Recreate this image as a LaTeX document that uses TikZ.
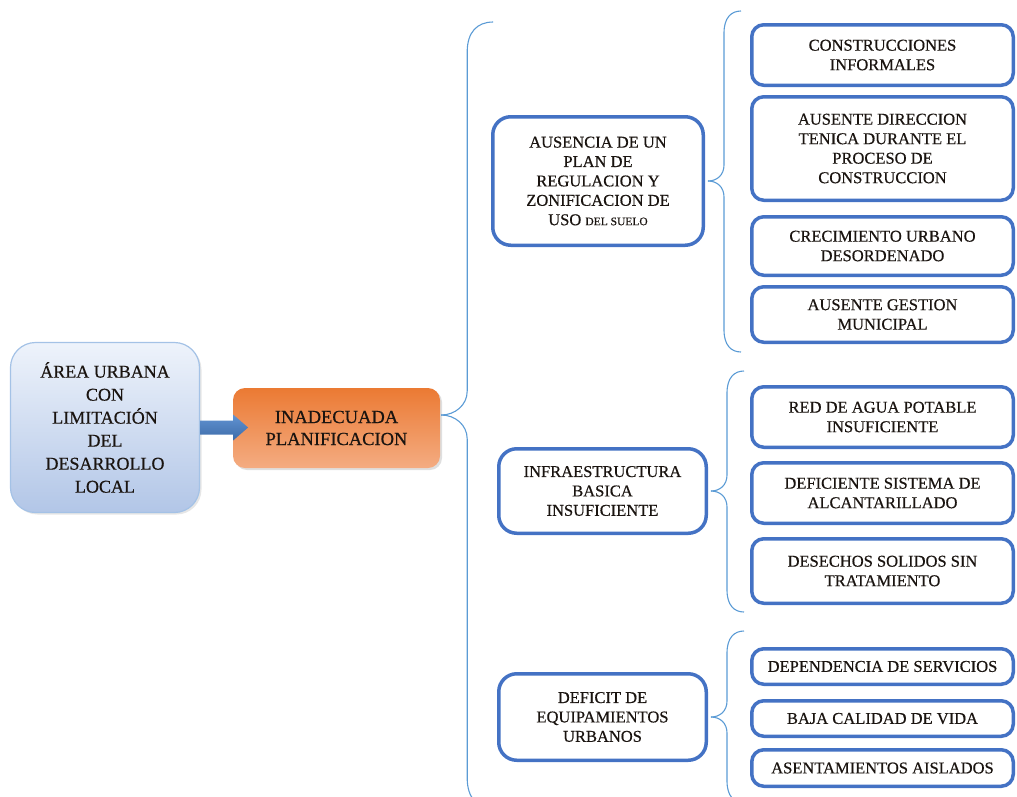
\documentclass[tikz,border=0pt]{standalone}
\usepackage{fontspec}
\setmainfont{Liberation Serif}[FakeBold=0.5]
\usetikzlibrary{calc,shadows}
\definecolor{boxblue}{HTML}{4472C4}
\definecolor{bracecol}{HTML}{5B9BD5}
\definecolor{leftborder}{HTML}{A4C2E6}
\definecolor{lefttop}{HTML}{EEF3FB}
\definecolor{leftbot}{HTML}{B2C6E7}
\definecolor{ortop}{HTML}{EB7A33}
\definecolor{ormid}{HTML}{E86F22}
\definecolor{orbot}{HTML}{F4AC82}
\definecolor{arrowtop}{HTML}{6193D2}
\definecolor{arrowbot}{HTML}{3D6BA8}
\definecolor{txt}{HTML}{1A1410}
\begin{document}
\begin{tikzpicture}[x=1pt,y=-1pt,
  subbox/.style={draw=boxblue, line width=3.5pt, rounded corners=12pt, fill=white, text=txt,
    align=center, font=\fontsize{16.5}{19.5}\selectfont, minimum width=261.5pt, inner sep=0pt},
  midbox/.style={draw=boxblue, line width=3.5pt, rounded corners=18pt, fill=white, text=txt,
    align=center, font=\fontsize{16.5}{19.4}\selectfont, inner sep=0pt},
  bracestyle/.style={draw=bracecol, line width=1.1pt},
  ]
\useasboundingbox (0,0) rectangle (1017,796);

% left box
\node[draw=leftborder, line width=1.2pt, rounded corners=25pt, top color=lefttop, bottom color=leftbot,
  minimum width=189pt, minimum height=170pt, align=center, inner sep=0pt, text=txt,
  drop shadow={opacity=0.2, shadow xshift=2pt, shadow yshift=-2pt},
  font=\fontsize{18}{23}\selectfont] (area) at (105,427.5)
  {ÁREA URBANA\\CON\\LIMITACIÓN\\DEL\\DESARROLLO\\LOCAL};

% orange box
\node[rounded corners=12pt, top color=ortop, middle color=ormid, bottom color=orbot,
  minimum width=207pt, minimum height=80pt, align=center, inner sep=0pt, text=txt,
  drop shadow={opacity=0.25, shadow xshift=2pt, shadow yshift=-2pt},
  font=\fontsize{18.5}{22}\selectfont] (plan) at (336.5,428)
  {INADECUADA\\PLANIFICACION};

% arrow
\shade[top color=arrowtop, bottom color=arrowbot]
  ($(area.east)+(0,-7)$) -- ++(33,0) -- ++(0,-6) -- ++(15,13) -- ++(-15,13) -- ++(0,-6) -- ++(-33,0) -- cycle;

% middle boxes
\node[midbox, minimum width=210.5pt, minimum height=128.5pt] (A1) at (598,181)
  {AUSENCIA DE UN\\PLAN DE\\REGULACION Y\\ZONIFICACION DE\\USO {\fontsize{11.5}{19.4}\selectfont DEL SUELO}};
\node[midbox, minimum width=207.5pt, minimum height=84.5pt] (A2) at (602.5,491)
  {INFRAESTRUCTURA\\BASICA\\INSUFICIENTE};
\node[midbox, minimum width=207.5pt, minimum height=86.5pt] (A3) at (602.5,717)
  {DEFICIT DE\\EQUIPAMIENTOS\\URBANOS};

% right boxes
\node[subbox, minimum height=60.5pt] (r1) at (882.5,55) {CONSTRUCCIONES\\INFORMALES};
\node[subbox, minimum height=103.5pt] (r2) at (882.5,148.5) {AUSENTE DIRECCION\\TENICA DURANTE EL\\PROCESO DE\\CONSTRUCCION};
\node[subbox, minimum height=58.5pt] (r3) at (882.5,246) {CRECIMIENTO URBANO\\DESORDENADO};
\node[subbox, minimum height=55.5pt] (r4) at (882.5,314.5) {AUSENTE GESTION\\MUNICIPAL};
\node[subbox, minimum height=60.5pt] (r5) at (882.5,417) {RED DE AGUA POTABLE\\INSUFICIENTE};
\node[subbox, minimum height=60.5pt] (r6) at (882.5,493) {DEFICIENTE SISTEMA DE\\ALCANTARILLADO};
\node[subbox, minimum height=64.5pt] (r7) at (882.5,571) {DESECHOS SOLIDOS SIN\\TRATAMIENTO};
\node[subbox, minimum height=35.5pt] (r8) at (882.5,666.5) {DEPENDENCIA DE SERVICIOS};
\node[subbox, minimum height=35.5pt] (r9) at (882.5,718.5) {BAJA CALIDAD DE VIDA};
\node[subbox, minimum height=36.5pt] (r10) at (882.5,768) {ASENTAMIENTOS AISLADOS};

% braces
\begin{scope}
\clip (0,0) rectangle (1017,796);
\coordinate (t0) at ($(plan.east)+(1,-13)$);
\draw[bracestyle] (t0) .. controls +(14,0) and +(0,14) .. ++(26,-24) -- ++(0,-339) .. controls +(0,-20) and +(-16,0) .. ++(26,-30);
\draw[bracestyle] (t0) .. controls +(14,0) and +(0,-14) .. ++(26,24) -- ++(0,339) .. controls +(0,20) and +(-16,0) .. ++(26,30);

\coordinate (t1) at ($(A1.east)+(3,0)$);
\draw[bracestyle] (t1) .. controls +(9,0) and +(0,10) .. ++(16,-16) -- ++(0,-132) .. controls +(0,-15) and +(-10,0) .. ++(17,-22);
\draw[bracestyle] (t1) .. controls +(9,0) and +(0,-10) .. ++(16,16) -- ++(0,133) .. controls +(0,15) and +(-10,0) .. ++(17,22);

\coordinate (t2) at ($(A2.east)+(3,0)$);
\draw[bracestyle] (t2) .. controls +(9,0) and +(0,10) .. ++(16,-16) -- ++(0,-82) .. controls +(0,-15) and +(-10,0) .. ++(17,-22);
\draw[bracestyle] (t2) .. controls +(9,0) and +(0,-10) .. ++(16,16) -- ++(0,83) .. controls +(0,15) and +(-10,0) .. ++(17,22);

\coordinate (t3) at ($(A3.east)+(3,0)$);
\draw[bracestyle] (t3) .. controls +(9,0) and +(0,10) .. ++(16,-16) -- ++(0,-48) .. controls +(0,-15) and +(-10,0) .. ++(17,-22);
\draw[bracestyle] (t3) .. controls +(9,0) and +(0,-10) .. ++(16,16) -- ++(0,48) .. controls +(0,15) and +(-10,0) .. ++(17,22);
\end{scope}
\end{tikzpicture}
\end{document}
